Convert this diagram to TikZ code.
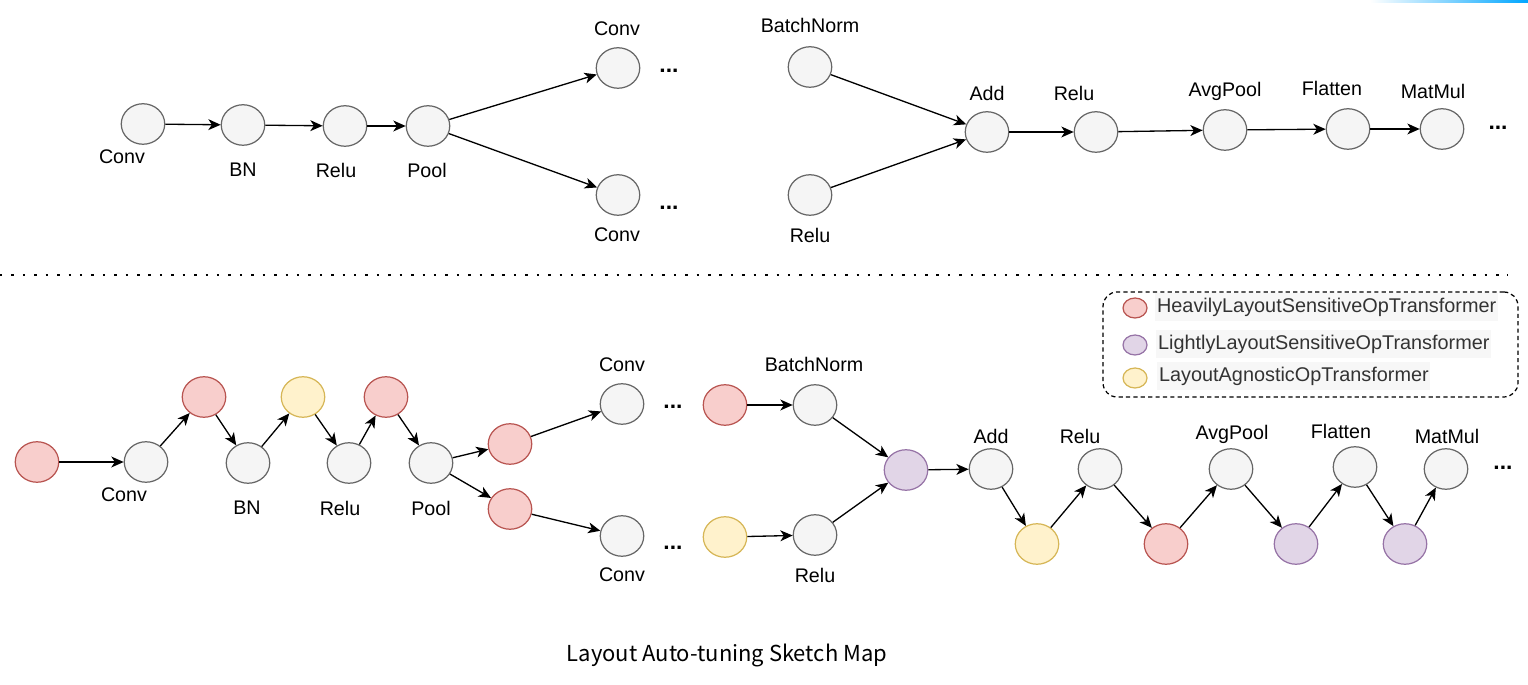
\documentclass[tikz,border=0pt]{standalone}
\usepackage{fontspec}
\setmainfont{Liberation Sans}
\newfontfamily\capfont{Noto Sans CJK SC}
\usepackage{tikz}
\usetikzlibrary{shapes.geometric, arrows.meta}
\definecolor{opfill}{HTML}{F5F5F5}
\definecolor{opline}{HTML}{666666}
\definecolor{heavyfill}{HTML}{F8CECC}
\definecolor{heavyline}{HTML}{B85450}
\definecolor{lightfill}{HTML}{E1D5E7}
\definecolor{lightline}{HTML}{9673A6}
\definecolor{agnfill}{HTML}{FFF2CC}
\definecolor{agnline}{HTML}{D6B656}
\definecolor{keyback}{HTML}{F7F7F7}
\definecolor{keytext}{HTML}{333333}

\begin{document}
\begin{tikzpicture}[x=0.02cm, y=-0.02cm]
% Styles
\tikzset{
  op/.style={ellipse, draw=opline, fill=opfill, line width=0.7pt,
    minimum width=0.87cm, minimum height=0.81cm, inner sep=0pt},
  heavy/.style={op, draw=heavyline, fill=heavyfill},
  light/.style={op, draw=lightline, fill=lightfill},
  agnostic/.style={op, draw=agnline, fill=agnfill},
  lbl/.style={font=\fontsize{11.2}{13}\selectfont, inner sep=0pt},
  more/.style={font=\fontsize{13}{15}\selectfont\bfseries, inner sep=0pt},
  flow/.style={-{Stealth[length=7pt, width=6.2pt, inset=2pt]}, line width=0.75pt},
  keytxt/.style={font=\fontsize{11.3}{13}\selectfont, text=keytext, fill=keyback,
    anchor=west, inner xsep=1pt, inner ysep=2.5pt},
}
\useasboundingbox (0,0) rectangle (1528,685);
\shade[left color=white, right color=blue!35!cyan] (1370,0) rectangle (1528,2.5);

% the original graph -- nodes
\foreach \name/\x/\y in {c1/143/124, bn1/243/125, re1/345/126, po1/428/126,
  cvA/618/68, cvB/618/195, bnA/810/67, reA/810/195, add1/987/132,
  re2/1096/132, ap1/1225/130, fl1/1348/129, mm1/1442/129} {
  \node[op] (\name) at (\x,\y) {};
}
% the original graph -- labels
\foreach \name/\x/\y/\txt in {c1/122/157/Conv, bn1/243/170/BN, re1/336/170/Relu,
  po1/427/170/Pool, cvA/617/29/Conv, cvB/617/235/Conv, bnA/810/25/BatchNorm,
  reA/810/235/Relu, add1/987/93/Add, re2/1074/93/Relu, ap1/1225/91/AvgPool,
  fl1/1332/88/Flatten, mm1/1433/91/MatMul} {
  \node[lbl] (l\name) at (\x,\y) {\txt};
}
\node[more] (dA) at (669,71) {...};
\node[more] (dB) at (669,208) {...};
\node[more] (dC) at (1498,128) {...};
% the original graph -- edges
\draw[flow] (c1) -- (bn1);
\draw[flow] (bn1) -- (re1);
\draw[flow] (re1) -- (po1);
\draw[flow] (po1) -- (cvA);
\draw[flow] (po1) -- (cvB);
\draw[flow] (bnA) -- (add1);
\draw[flow] (reA) -- (add1);
\draw[flow] (add1) -- (re2);
\draw[flow] (re2) -- (ap1);
\draw[flow] (ap1) -- (fl1);
\draw[flow] (fl1) -- (mm1);

% Separator
\draw[line width=1.4pt, dash pattern=on 1.4pt off 5.1pt] (0,275) -- (1508,275);

% the tuned graph -- nodes
\foreach \name/\x/\y in {c2/146/462, bn2/248/463, re3/349/463, po2/431/463,
  cvC/622/404, cvD/622/536, bn3/815/405, re4/815/535, add2/991/469,
  re5/1100/469, ap2/1231/469, fl2/1355/467, mm2/1446/469} {
  \node[op] (\name) at (\x,\y) {};
}
\foreach \name/\x/\y in {h0/37/462, h1/204/397, h2/386/397, h3/510/444,
  h4/510/509, h5/725/405, h6/1166/544} {
  \node[heavy] (\name) at (\x,\y) {};
}
\foreach \name/\x/\y in {p1/906/470, p2/1296/544, p3/1405/544} {
  \node[light] (\name) at (\x,\y) {};
}
\foreach \name/\x/\y in {y1/303/397, y2/725/537, y3/1037/544} {
  \node[agnostic] (\name) at (\x,\y) {};
}
% the tuned graph -- labels
\foreach \name/\x/\y/\txt in {c2/124/495/Conv, bn2/247/508/BN, re3/340/508/Relu,
  po2/431/508/Pool, cvC/622/365/Conv, cvD/622/575/Conv, bn3/814/364/BatchNorm,
  re4/815/575/Relu, add2/991/436/Add, re5/1080/436/Relu, ap2/1232/434/AvgPool,
  fl2/1341/431/Flatten, mm2/1447/436/MatMul} {
  \node[lbl] (l\name) at (\x,\y) {\txt};
}
\node[more] (dD) at (673,407) {...};
\node[more] (dE) at (673,548) {...};
\node[more] (dF) at (1503,468) {...};
% the tuned graph -- edges
\foreach \a/\b in {h0/c2, c2/h1, h1/bn2, bn2/y1, y1/re3, re3/h2, h2/po2,
  po2/h3, po2/h4, h3/cvC, h4/cvD, h5/bn3, y2/re4, bn3/p1, re4/p1, p1/add2,
  add2/y3, y3/re5, re5/h6, h6/ap2, ap2/p2, p2/fl2, fl2/p3, p3/mm2} {
  \draw[flow] (\a) -- (\b);
}

% Legend
\node[draw, line width=0.7pt, dash pattern=on 2.4pt off 1.8pt, rounded corners=8pt,
  minimum width=8.3cm, minimum height=2.1cm] (legend) at (1310.5,344.5) {};
\node[heavy, minimum width=0.48cm, minimum height=0.4cm] (kh) at (1135,308) {};
\node[light, minimum width=0.48cm, minimum height=0.4cm] (kl) at (1135,345) {};
\node[agnostic, minimum width=0.48cm, minimum height=0.4cm] (ka) at (1135,378) {};
\node[keytxt] (th) at (1155,307) {HeavilyLayoutSensitiveOpTransformer};
\node[keytxt] (tl) at (1156,344) {LightlyLayoutSensitiveOpTransformer};
\node[keytxt] (ta) at (1157,376) {LayoutAgnosticOpTransformer};

% Caption
\node[font=\capfont\fontsize{12.5}{15}\selectfont, inner sep=0pt] (caption)
  at (727,656) {Layout Auto-tuning Sketch Map};
\end{tikzpicture}
\end{document}
